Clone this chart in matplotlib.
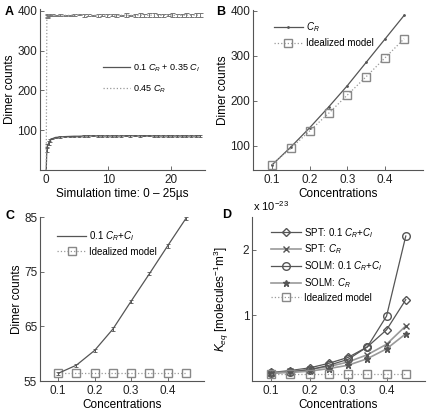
import numpy as np
import matplotlib
matplotlib.use("Agg")
import matplotlib.pyplot as plt

plt.rcParams['font.family'] = ['Liberation Sans', 'DejaVu Sans']
plt.rcParams['mathtext.fontset'] = 'custom'
plt.rcParams['mathtext.it'] = 'Liberation Sans:italic'
plt.rcParams['mathtext.rm'] = 'Liberation Sans'
plt.rcParams['font.size'] = 9

# panel A: time course (us)
t_a = [0, 0.1, 0.2, 0.4, 0.6, 1.0, 1.5, 2.25, 3.0, 3.75, 4.5, 5.25, 6.0, 6.75,
       7.5, 8.25, 9.0, 9.75, 10.5, 11.25, 12.0, 12.75, 13.5, 14.25, 15.0, 15.75,
       16.5, 17.25, 18.0, 18.75, 19.5, 20.25, 21.0, 21.75, 22.5, 23.25, 24.0, 24.75]
mix_a = [0, 52, 60, 68, 74, 79, 82, 83, 84, 84.5, 85, 85, 85.5, 85.5, 86, 85.5,
         85.5, 85.5, 85.5, 85.5, 85.5, 86, 86, 86, 85.5, 86, 86, 85.5, 85.5, 85.5,
         85.5, 85.5, 85.5, 85.5, 85.5, 85.5, 85.5, 86]
mix_a_err = [0, 6, 5, 4, 3, 2, 1.5, 1.5, 1.5, 1.5, 1.5, 1.5, 2, 1.5, 1.5, 1.5, 1.5,
             1.5, 1.5, 1.5, 1.5, 1.5, 2, 1.5, 2, 1.5, 1.5, 2, 1.5, 1.5, 1.5, 1.5,
             1.5, 1.5, 1.5, 1.5, 1.5, 2]
cr_a = [0, 386, 389, 390, 389, 390, 389, 390, 389, 389, 390, 391, 389, 390, 389,
        389, 390, 389, 390, 389, 389, 390, 389, 388, 390, 389, 389, 390, 389, 389,
        390, 389, 389, 389, 390, 389, 390, 389]
cr_a_err = [0, 4, 3, 3, 2, 3, 2, 3, 2, 2, 3, 2, 4, 2, 2, 3, 2, 4, 2, 3, 2, 4, 2,
            4, 5, 3, 5, 5, 4, 4, 3, 5, 4, 3, 5, 3, 5, 5]

conc = [0.1, 0.15, 0.2, 0.25, 0.3, 0.35, 0.4, 0.45]

# panel B
cr_b = [57, 97, 140, 186, 234, 286, 338, 390]
ideal_b = [58, 94, 133, 172, 213, 254, 296, 338]

# panel C
mix_c = [56.4, 57.9, 60.6, 64.5, 69.6, 74.6, 79.7, 84.7]
mix_c_err = [0.3, 0.3, 0.3, 0.3, 0.3, 0.3, 0.3, 0.3]
ideal_c = [56.4, 56.4, 56.4, 56.4, 56.4, 56.4, 56.4, 56.4]

# panel D (x 1e-23)
spt_mix = [0.13, 0.16, 0.20, 0.27, 0.36, 0.52, 0.78, 1.24]
spt_cr = [0.12, 0.145, 0.18, 0.22, 0.29, 0.40, 0.56, 0.84]
solm_mix = [0.12, 0.14, 0.17, 0.24, 0.33, 0.52, 0.99, 2.21]
solm_cr = [0.12, 0.13, 0.15, 0.19, 0.24, 0.34, 0.49, 0.72]
ideal_d = [0.11, 0.11, 0.11, 0.11, 0.11, 0.11, 0.11, 0.11]

W, H = 430, 411
fig = plt.figure(figsize=(W / 100, H / 100), dpi=100)

TICK = 8.5
LAB = 8.5
LEG = 7


def px_axes(left, top, right, bottom):
    return fig.add_axes([left / W, 1 - bottom / H, (right - left) / W, (bottom - top) / H])


def style(ax):
    for s in ['top', 'right']:
        ax.spines[s].set_visible(False)
    for s in ['left', 'bottom']:
        ax.spines[s].set_color('#555555')
        ax.spines[s].set_linewidth(0.8)
    ax.tick_params(direction='in', length=3, width=0.6, colors='#555555',
                   labelcolor='#222222', labelsize=TICK, pad=3)
    ax.tick_params(axis='y', pad=2)


dark = '#555555'
light = '#999999'
leg_kw = dict(frameon=False, fontsize=LEG, handlelength=3.0, handletextpad=0.3,
              numpoints=1, borderaxespad=0)

# A
ax = px_axes(40, 9, 205, 170)
style(ax)
ax.errorbar(t_a, mix_a, yerr=mix_a_err, color=dark, lw=0.9, elinewidth=0.7,
            capsize=1.5, capthick=0.6, label='0.1 $C_R$ + 0.35 $C_I$')
ax.errorbar(t_a, cr_a, yerr=cr_a_err, color=light, lw=0.9, ls=':', elinewidth=0.7,
            capsize=1.8, capthick=0.7, ecolor='#777777', label='0.45 $C_R$')
ax.set_xlim(-1, 25.5)
ax.set_ylim(0, 405)
ax.set_xticks([0, 10, 20])
ax.set_yticks([100, 200, 300, 400])
ax.set_ylabel('Dimer counts', fontsize=LAB, labelpad=1)
ax.set_xlabel('Simulation time: 0 – 25µs', fontsize=LAB, labelpad=1)
h, l = ax.get_legend_handles_labels()
h = [x[0] for x in h]
ax.legend(h, l, loc='upper left', bbox_to_anchor=(0.36, 0.69),
          labelspacing=1.0, **{**leg_kw, 'fontsize': 6.5})
fig.text(5 / W, 1 - 12 / H, 'A', fontsize=9, fontweight='bold', va='center')

# B
ax = px_axes(253, 10, 423, 170)
style(ax)
ax.plot(conc, cr_b, color=dark, lw=0.9, marker='.', ms=2, label='$C_R$')
ax.plot(conc, ideal_b, color=light, lw=0.9, ls=':', marker='s', ms=5.5, mfc='none',
        mec='#888888', label='Idealized model')
ax.set_xlim(0.05, 0.5)
ax.set_ylim(46, 402)
ax.set_xticks([0.1, 0.2, 0.3, 0.4])
ax.set_yticks([100, 200, 300, 400])
ax.set_ylabel('Dimer counts', fontsize=LAB, labelpad=1)
ax.set_xlabel('Concentrations', fontsize=LAB, labelpad=1)
ax.legend(loc='upper left', bbox_to_anchor=(0.1, 0.96), labelspacing=0.45, **leg_kw)
fig.text(216 / W, 1 - 12 / H, 'B', fontsize=9, fontweight='bold', va='center')

# C
ax = px_axes(40, 217, 204, 381)
style(ax)
ax.errorbar(conc, mix_c, yerr=mix_c_err, color=dark, lw=0.9, elinewidth=0.7,
            capsize=1.5, capthick=0.6, label='0.1 $C_R$+$C_I$')
ax.plot(conc, ideal_c, color=light, lw=0.9, ls=':', marker='s', ms=5.5, mfc='none',
        mec='#888888', label='Idealized model')
ax.set_xlim(0.05, 0.5)
ax.set_ylim(55, 85)
ax.set_xticks([0.1, 0.2, 0.3, 0.4])
ax.set_yticks([55, 65, 75, 85])
ax.set_ylabel('Dimer counts', fontsize=LAB, labelpad=1)
ax.set_xlabel('Concentrations', fontsize=LAB, labelpad=1)
h, l = ax.get_legend_handles_labels()
ax.legend([h[1][0], h[0]], [l[1], l[0]], loc='upper left', bbox_to_anchor=(0.08, 0.95),
          labelspacing=0.4, **leg_kw)
fig.text(5 / W, 1 - 216 / H, 'C', fontsize=9, fontweight='bold', va='center')

# D
ax = px_axes(252, 217, 425, 381)
style(ax)
ax.plot(conc, spt_mix, color=dark, lw=0.9, marker='D', ms=4.5, mfc='none', mec=dark,
        label='SPT: 0.1 $C_R$+$C_I$')
ax.plot(conc, spt_cr, color=light, lw=1.2, marker='x', ms=4.5, mec=dark,
        label='SPT: $C_R$')
ax.plot(conc, solm_mix, color=dark, lw=0.9, marker='o', ms=5.5, mfc='none', mec=dark,
        label='SOLM: 0.1 $C_R$+$C_I$')
ax.plot(conc, solm_cr, color=light, lw=1.2, marker='*', ms=4.5, mfc=dark, mec=dark,
        label='SOLM: $C_R$')
ax.plot(conc, ideal_d, color=light, lw=0.9, ls=':', marker='s', ms=5.5, mfc='none',
        mec='#888888', label='Idealized model')
ax.set_xlim(0.05, 0.5)
ax.set_ylim(0, 2.5)
ax.set_xticks([0.1, 0.2, 0.3, 0.4])
ax.set_yticks([1, 2])
ax.set_ylabel('$K_{eq}$ [molecules$^{-1}$m$^3$]', fontsize=LAB, labelpad=8)
ax.set_xlabel('Concentrations', fontsize=LAB, labelpad=1)
ax.legend(loc='upper left', bbox_to_anchor=(0.09, 0.97), labelspacing=0.3, **leg_kw)
fig.text(253 / W, 1 - 206 / H, 'x 10$^{-23}$', fontsize=8, va='center')
fig.text(222 / W, 1 - 215 / H, 'D', fontsize=9, fontweight='bold', va='center')

fig.savefig('out.png', dpi=100)
